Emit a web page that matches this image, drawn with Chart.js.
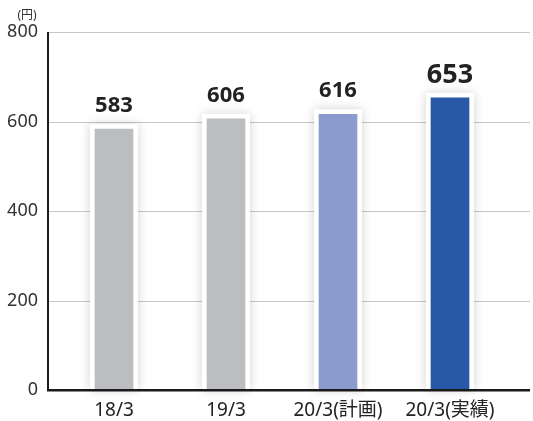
<!DOCTYPE html>
<html><head><meta charset="utf-8">
<script src="https://cdn.jsdelivr.net/npm/chart.js@4"></script>
<style>html,body{margin:0;padding:0;background:#fff}#wrap{width:533px;height:421px}</style>
</head><body><div id="wrap"><canvas id="c" width="533" height="421"></canvas></div>
<script>
const categories = ['18/3', '19/3', '20/3(計画)', '20/3(実績)'];
const values = [583, 606, 616, 653];
const barColors = ['#bcbdc1', '#bcbdc1', '#8c9bcd', '#2759a8'];
const yTicks = [0, 200, 400, 600, 800];
const unitLabel = '(円)';

const FONT = '"Noto Sans", "Noto Sans CJK JP", sans-serif';

const decor = {
  id: 'decor',
  beforeDatasetsDraw(chart) {
    const ctx = chart.ctx, y = chart.scales.y;
    const L = 48, R = 530;
    ctx.save();
    ctx.strokeStyle = '#c8c8c8'; ctx.lineWidth = 1;
    yTicks.forEach(v => { if (v === 0) return; const py = Math.round(y.getPixelForValue(v)) + 0.5; ctx.beginPath(); ctx.moveTo(L, py); ctx.lineTo(R, py); ctx.stroke(); });
    const meta = chart.getDatasetMeta(0);
    meta.data.forEach(b => {
      const w = b.width, pad = 5;
      ctx.save();
      ctx.shadowColor = 'rgba(0,0,0,0.18)'; ctx.shadowBlur = 10;
      ctx.fillStyle = '#fff';
      ctx.fillRect(b.x - w/2 - pad, b.y - pad, w + 2*pad, b.base - b.y + pad);
      ctx.restore();
    });
    ctx.restore();
  },
  afterDatasetsDraw(chart) {
    const ctx = chart.ctx, y = chart.scales.y;
    const L = 48, R = 530;
    const top = y.getPixelForValue(800), base = y.getPixelForValue(0);
    ctx.save();
    ctx.strokeStyle = '#1a1a1a';
    ctx.lineWidth = 2;
    ctx.beginPath(); ctx.moveTo(L, top); ctx.lineTo(L, base); ctx.stroke();
    ctx.lineWidth = 2.5;
    ctx.beginPath(); ctx.moveTo(L - 1, base); ctx.lineTo(R, base); ctx.stroke();
    const meta = chart.getDatasetMeta(0);
    ctx.fillStyle = '#222';
    ctx.textAlign = 'center'; ctx.textBaseline = 'alphabetic';
    meta.data.forEach((b, i) => {
      const big = i === values.length - 1;
      ctx.font = 'bold ' + (big ? 27 : 22) + 'px ' + FONT;
      ctx.fillText(String(values[i]), b.x, b.y - (big ? 15 : 17));
    });
    ctx.font = '12px ' + FONT; ctx.fillStyle = '#333'; ctx.textAlign = 'center'; ctx.textBaseline = 'middle';
    ctx.fillText(unitLabel, 27, 16);
    ctx.restore();
  }
};

new Chart(document.getElementById('c'), {
  type: 'bar',
  data: { labels: categories, datasets: [{ data: values, backgroundColor: barColors, borderWidth: 0, barThickness: 38 }] },
  options: {
    responsive: false, animation: false,
    layout: { padding: { top: 32, right: 27, left: 0, bottom: 0 } },
    plugins: { legend: { display: false }, tooltip: { enabled: false } },
    scales: {
      x: {
        grid: { display: false, drawTicks: false }, border: { display: false },
        ticks: { color: '#222', font: { family: FONT, size: 19 }, padding: 9, maxRotation: 0, autoSkip: false },
        afterFit: s => { s.height = 30; }
      },
      y: {
        min: 0, max: 800,
        grid: { display: false, drawTicks: false }, border: { display: false },
        afterBuildTicks: s => { s.ticks = yTicks.map(v => ({ value: v })); },
        ticks: { color: '#333', font: { family: FONT, size: 18 }, padding: 20 },
        afterFit: s => { s.width = 58; }
      }
    }
  },
  plugins: [decor]
});
</script></body></html>
